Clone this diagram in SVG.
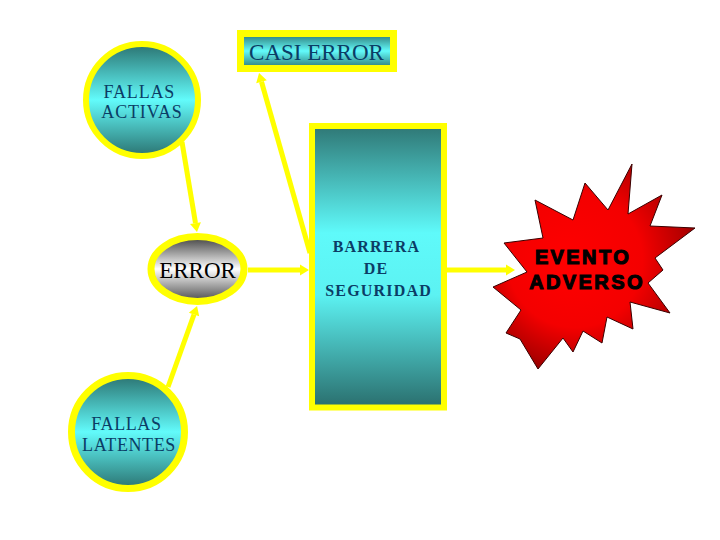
<svg xmlns="http://www.w3.org/2000/svg" width="720" height="540" viewBox="0 0 720 540">
  <defs>
    <style>
      .yel { stroke: #ffff00; }
      .teal-txt { font-family: "Liberation Serif", "Times New Roman", serif; fill: #0b3d66; text-anchor: middle; }
      .conn { stroke: #ffff00; stroke-width: 5; fill: none; marker-end: url(#arrow); }
    </style>
    <linearGradient id="tealV" x1="0" y1="0" x2="0" y2="1">
      <stop offset="0" stop-color="#2b7371"/>
      <stop offset="0.5" stop-color="#62fbfb"/>
      <stop offset="1" stop-color="#2b7371"/>
    </linearGradient>
    <linearGradient id="barV" x1="0" y1="0" x2="0" y2="1">
      <stop offset="0" stop-color="#2f7775"/>
      <stop offset="0.38" stop-color="#5ffafa"/>
      <stop offset="0.6" stop-color="#5cf2f2"/>
      <stop offset="1" stop-color="#2a6e6d"/>
    </linearGradient>
    <linearGradient id="greyV" x1="0" y1="0" x2="0" y2="1">
      <stop offset="0" stop-color="#3e3e3e"/>
      <stop offset="0.5" stop-color="#ffffff"/>
      <stop offset="1" stop-color="#4a4a4a"/>
    </linearGradient>
    <radialGradient id="redR" gradientUnits="userSpaceOnUse" cx="585" cy="258" r="135" fx="565" fy="262">
      <stop offset="0" stop-color="#ff0000"/>
      <stop offset="0.5" stop-color="#f40000"/>
      <stop offset="0.8" stop-color="#b00000"/>
      <stop offset="1" stop-color="#650000"/>
    </radialGradient>
    <marker id="arrow" markerUnits="userSpaceOnUse" viewBox="-1 -6 11 12" markerWidth="11" markerHeight="12" refX="0" refY="0" orient="auto">
      <path d="M0,-5.5 L9,0 L0,5.5 z" fill="#ffff00"/>
    </marker>
  </defs>
  <rect x="0" y="0" width="720" height="540" fill="#ffffff"/>

  <g id="connectors">
    <line class="conn" x1="182" y1="142" x2="195.5" y2="223.1"/>
    <line class="conn" x1="168" y1="387" x2="194" y2="314.5"/>
    <line class="conn" x1="248" y1="270" x2="300" y2="270"/>
    <line class="conn" x1="310" y1="253" x2="261.5" y2="81.7"/>
    <line class="conn" x1="447" y1="270" x2="506" y2="270"/>
  </g>

  <g id="casi-error">
    <rect x="240.5" y="33.5" width="153" height="35" fill="url(#tealV)" class="yel" stroke-width="7"/>
    <text x="316.5" y="60" class="teal-txt" font-size="23">CASI ERROR</text>
  </g>

  <g id="fallas-activas">
    <circle cx="142" cy="100" r="56" fill="url(#tealV)" class="yel" stroke-width="6"/>
    <text class="teal-txt" font-size="18" letter-spacing="0.8">
      <tspan x="142" y="98">FALLAS</tspan>
      <tspan x="142" y="118">ACTIVAS</tspan>
    </text>
  </g>

  <g id="error">
    <ellipse cx="197.5" cy="269" rx="46.5" ry="32.5" fill="url(#greyV)" class="yel" stroke-width="7"/>
    <text x="197.5" y="278" font-family="Liberation Serif, 'Times New Roman', serif" font-size="23" fill="#000" text-anchor="middle">ERROR</text>
  </g>

  <g id="fallas-latentes">
    <circle cx="128" cy="432" r="56.5" fill="url(#tealV)" class="yel" stroke-width="7"/>
    <text class="teal-txt" font-size="18" letter-spacing="0.6">
      <tspan x="129" y="430">FALLAS</tspan>
      <tspan x="129" y="451">LATENTES</tspan>
    </text>
  </g>

  <g id="barrera">
    <rect x="312" y="126" width="132" height="281.5" fill="url(#barV)" class="yel" stroke-width="6"/>
    <text class="teal-txt" font-size="16" font-weight="bold" letter-spacing="1.2" fill="#174a6c">
      <tspan x="378.6" y="252">BARRERA</tspan>
      <tspan x="378.6" y="274">DE</tspan>
      <tspan x="378.6" y="296">SEGURIDAD</tspan>
    </text>
  </g>

  <g id="evento-adverso">
    <polygon fill="url(#redR)" stroke="#3a0000" stroke-width="1"
      points="632,164 628,214 662,195 650,226 695,228 655,258 663,270 648,283 670,313 630,302 633,329 607,317 602,343 583,331 573,352 563,338 538,369 520,339 506,333 521,310 493,287 527,272 504,243 543,238 535,200 573,220 585,183 608,210"/>
    <text font-family="Liberation Sans, Arial, sans-serif" font-weight="bold" font-size="20" letter-spacing="2.4" fill="#000" stroke="#000" stroke-width="1.1" text-anchor="middle">
      <tspan x="587" y="264">EVENTO</tspan>
      <tspan x="587" y="289">ADVERSO</tspan>
    </text>
  </g>
</svg>
